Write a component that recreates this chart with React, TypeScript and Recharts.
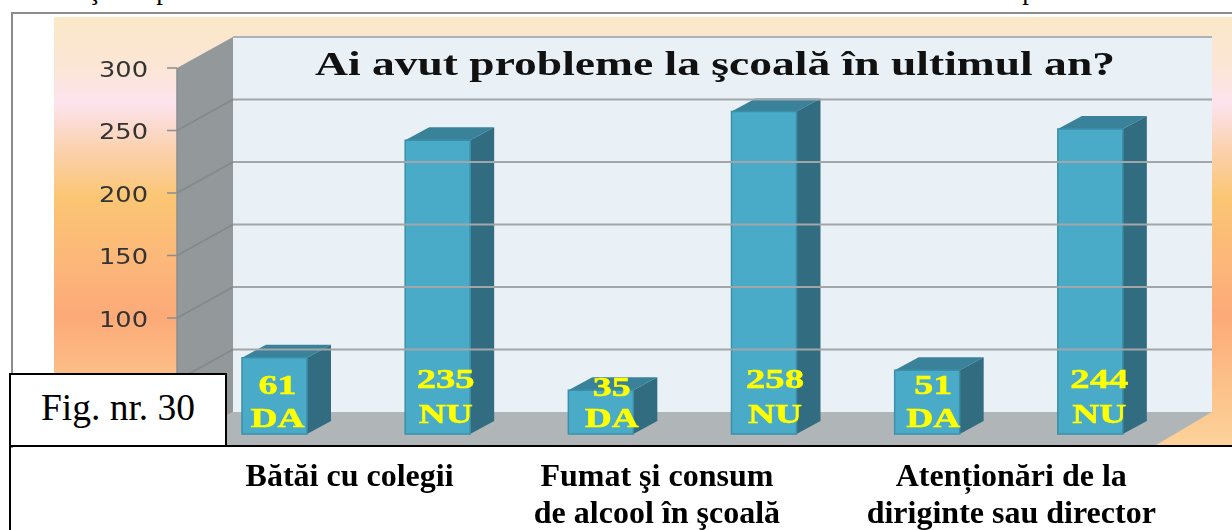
import { BarChart, Bar, XAxis, YAxis, ReferenceArea, ReferenceLine } from "recharts";

const answers = ["DA", "NU", "DA", "NU", "DA", "NU"];
const values = [61, 235, 35, 258, 51, 244];
const bars = ["b1", "b2", "b3", "b4", "b5", "b6"];
const yTicks = [0, 50, 100, 150, 200, 250, 300];
const groupLabels = [
  ["Bătăi cu colegii"],
  ["Fumat şi consum", "de alcool în şcoală"],
  ["Atenționări de la", "diriginte sau director"],
];
const title = "Ai avut probleme la şcoală în ultimul an?";

const data = bars.map((name, i) => ({ name, value: values[i], answer: answers[i] }));

// pseudo 3D depth of the walls and of the bars
const WALL_DX = 56;
const WALL_DY = -31;
const BAR_DX = 24;
const BAR_DY = -13;
const BAR_SHIFT_X = 16;
const BAR_SHIFT_Y = -9;
const GROUP_SHIFT = [91, 72, 100];
// the labels on the bars sit a little off centre in the picture
const TEXT_SHIFT = [3, 8, 11, 11, 6, 9];
const NUMBER_LIFT = [40, 46, 38, 46, 40, 46];
const SERIF = "'Liberation Serif', serif";

function Walls({ x, y, width, height }: any) {
  const bottom = y + height;
  const right = x + width;
  const backLeft = x + WALL_DX;
  const backTop = y + WALL_DY;
  return (
    <g>
      <polygon points={`${x},${y} ${backLeft},${backTop} ${backLeft},${bottom + WALL_DY} ${x},${bottom}`} fill="#93989a" />
      <rect x={backLeft} y={backTop} width={width} height={height} fill="#e9f0f6" />
      <line x1={backLeft} y1={backTop} x2={right + WALL_DX} y2={backTop} stroke="#b0b3b6" strokeWidth={2} />
      <polygon points={`${x},${bottom + 2} ${backLeft},${bottom + WALL_DY} ${right + WALL_DX},${bottom + WALL_DY} ${right},${bottom + 2}`} fill="#b0b5b8" />
      <text x={315} y={75} fontFamily={SERIF} fontWeight={700} fontSize={34} fill="#111" textLength={800} lengthAdjust="spacingAndGlyphs">
        {title}
      </text>
    </g>
  );
}

function GridLine({ x1, x2, y1 }: any) {
  return (
    <g fill="none" strokeWidth={2}>
      <line x1={x1} y1={y1} x2={x1 + WALL_DX} y2={y1 + WALL_DY} stroke="#84898b" />
      <line x1={x1 + WALL_DX} y1={y1 + WALL_DY} x2={x2 + WALL_DX} y2={y1 + WALL_DY} stroke="#a3a6a9" />
    </g>
  );
}

function Cube({ x, y, width, height }: any) {
  const l = x + BAR_SHIFT_X;
  const t = y + BAR_SHIFT_Y;
  const r = l + width;
  const b = t + height;
  return (
    <g>
      <polygon points={`${l},${t} ${l + BAR_DX},${t + BAR_DY} ${r + BAR_DX},${t + BAR_DY} ${r},${t}`} fill="#39829a" />
      <polygon points={`${r},${t} ${r + BAR_DX},${t + BAR_DY} ${r + BAR_DX},${b + BAR_DY} ${r},${b}`} fill="#326c80" />
      <rect x={l} y={t} width={width} height={height} fill="#4aabc8" stroke="#3b8fa9" strokeWidth={1.5} />
    </g>
  );
}

function BarText({ x, y, width, height, index }: any) {
  const isNo = answers[index] === "NU";
  const cx = x + BAR_SHIFT_X + width / 2 + TEXT_SHIFT[index];
  const bottom = y + BAR_SHIFT_Y + height;
  const common = {
    fill: "#ffff00",
    stroke: "#ffff00",
    strokeWidth: 0.5,
    fontFamily: SERIF,
    fontWeight: 700,
    fontSize: 28,
    textAnchor: "middle" as const,
    lengthAdjust: "spacingAndGlyphs" as const,
  };
  return (
    <g>
      <text {...common} x={cx} y={bottom - NUMBER_LIFT[index]} textLength={String(values[index]).length > 2 ? 58 : 38}>
        {values[index]}
      </text>
      <text {...common} x={cx} y={bottom + (isNo ? -11 : -7)} textLength={54}>
        {answers[index]}
      </text>
    </g>
  );
}

function ValueTick({ x, y, payload }: any) {
  // 0 and 50 are covered by the caption box in the picture
  if (payload.value < 100) return null;
  return (
    <text x={x - 17} y={y + 8.5} textAnchor="end" fontFamily="'DejaVu Sans', sans-serif" fontSize={21} fill="#333" textLength={49} lengthAdjust="spacingAndGlyphs">
      {payload.value}
    </text>
  );
}

function GroupTick({ x, index }: any) {
  if (index % 2 !== 0) return null;
  const g = index / 2;
  return (
    <text x={x + GROUP_SHIFT[g]} textAnchor="middle" fontFamily={SERIF} fontWeight={700} fontSize={32} fill="#000">
      {groupLabels[g].map((line, i) => (
        <tspan key={line} x={x + GROUP_SHIFT[g]} y={486 + i * 37}>
          {line}
        </tspan>
      ))}
    </text>
  );
}

export default function App() {
  return (
    <div style={{ position: "absolute", left: 0, top: 0, width: 1232, height: 530, background: "#fff", overflow: "hidden" }}>
      {/* bits of the text line above the figure, cropped by the top edge */}
      <svg width={1232} height={12} style={{ position: "absolute", left: 0, top: 0 }}>
        <g fontFamily={SERIF} fontSize={27} fill="#000" textAnchor="middle">
          <text x={94} y={-1}>ţ</text>
          <text x={163} y={-1}>p</text>
          <text x={1029} y={-1}>p</text>
        </g>
      </svg>
      {/* picture frame and gradient behind the plot */}
      <div style={{ position: "absolute", left: 11, top: 12, width: 1221, height: 436, borderTop: "2px solid #8c8c8c", borderLeft: "2px solid #8c8c8c", boxSizing: "border-box" }} />
      <div
        style={{
          position: "absolute",
          left: 54,
          top: 17,
          width: 1178,
          height: 428,
          background: "linear-gradient(180deg, #fbe8c8 0%, #fbe6d6 12%, #fce3ee 20%, #fbd0a8 32%, #fbc674 42%, #fcb47a 60%, #fcaa78 70%, #fcc088 85%, #fcd29a 100%)",
        }}
      />
      <div style={{ position: "absolute", left: 0, top: 0, filter: "blur(0.5px)" }}>
        <BarChart width={1232} height={530} data={data} margin={{ top: 68, right: 76, bottom: 0, left: 0 }} barSize={65}>
          <XAxis dataKey="name" height={87} interval={0} axisLine={false} tickLine={false} tick={<GroupTick />} />
          <YAxis
            domain={[0, 300]}
            ticks={yTicks}
            width={177}
            interval={0}
            tickSize={10}
            tickLine={{ stroke: "#8a8e90", strokeWidth: 1.5 }}
            axisLine={{ stroke: "#8a8e90", strokeWidth: 1.5 }}
            tick={<ValueTick />}
          />
          <ReferenceArea y1={0} y2={300} ifOverflow="visible" shape={<Walls />} />
          {yTicks.slice(1, -1).map((t) => (
            <ReferenceLine key={t} y={t} ifOverflow="visible" shape={<GridLine />} />
          ))}
          <Bar dataKey="value" isAnimationActive={false} shape={<Cube />} label={<BarText />} />
        </BarChart>
      </div>
      {/* figure caption pasted over the chart, and the rule under it */}
      <div style={{ position: "absolute", left: 9, top: 445, width: 1223, borderTop: "2px solid #000" }} />
      <div style={{ position: "absolute", left: 9, top: 445, height: 85, borderLeft: "2px solid #000" }} />
      <div
        style={{
          position: "absolute",
          left: 9,
          top: 373,
          width: 218,
          height: 74,
          boxSizing: "border-box",
          border: "2px solid #000",
          background: "#fff",
          fontFamily: SERIF,
          fontSize: 37.5,
          lineHeight: "66px",
          textAlign: "center",
          color: "#000",
        }}
      >
        Fig. nr. 30
      </div>
    </div>
  );
}
